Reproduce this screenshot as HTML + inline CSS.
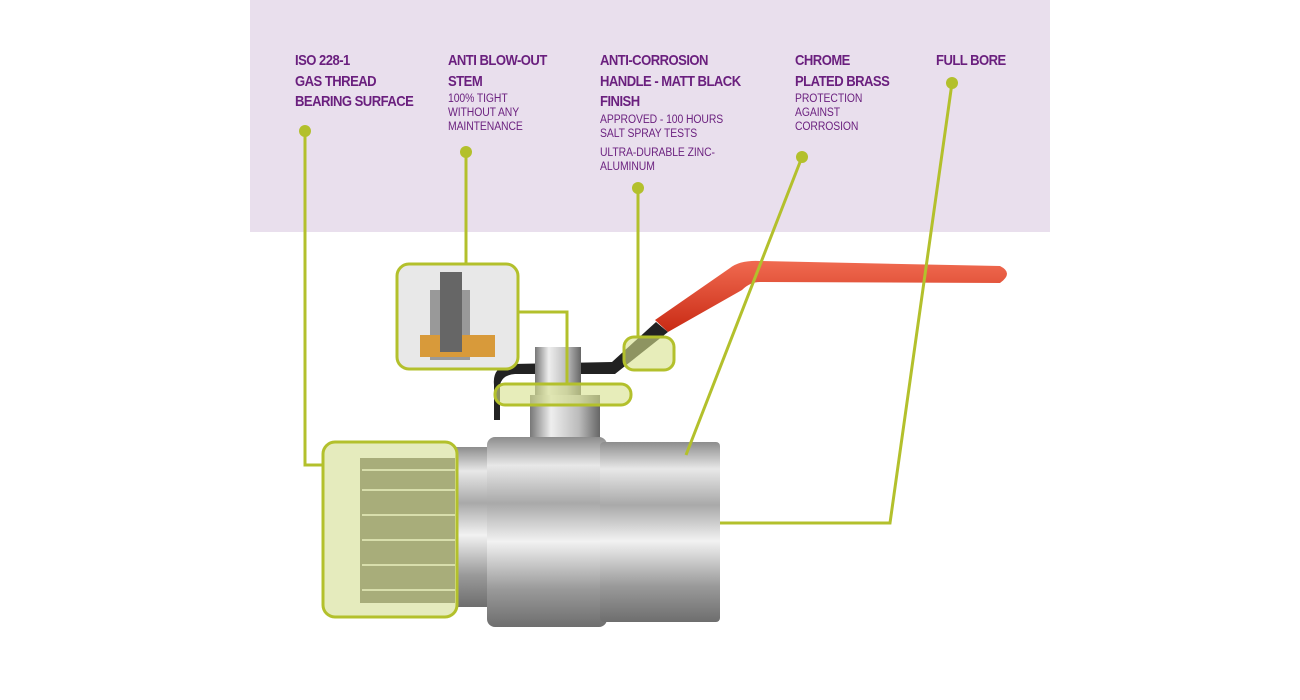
<!DOCTYPE html>
<html><head><style>
body{margin:0;width:1300px;height:700px;background:#fff;position:relative;overflow:hidden;font-family:"Liberation Sans",sans-serif;color:#6a1f7e}
.panel{position:absolute;left:250px;top:0;width:800px;height:232px;background:#e9dfed}
.t{position:absolute;font-weight:bold;font-size:15px;line-height:20.5px;letter-spacing:-0.6px;transform:scaleX(0.87);transform-origin:0 0;white-space:nowrap}
.s{font-weight:normal;font-size:11.5px;line-height:14px;letter-spacing:-0.1px;transform:scaleX(1.04);transform-origin:0 0}
svg{position:absolute;left:0;top:0}
</style></head><body>
<div class="panel"></div>
<div class="t" style="left:295px;top:51px">ISO 228-1<br>GAS THREAD<br>BEARING SURFACE</div>
<div class="t" style="left:448px;top:51px">ANTI BLOW-OUT<br>STEM<div class="s">100% TIGHT<br>WITHOUT ANY<br>MAINTENANCE</div></div>
<div class="t" style="left:600px;top:51px">ANTI-CORROSION<br>HANDLE - MATT BLACK<br>FINISH<div class="s">APPROVED - 100 HOURS<br>SALT SPRAY TESTS<div style="height:5px"></div>ULTRA-DURABLE ZINC-<br>ALUMINUM</div></div>
<div class="t" style="left:795px;top:51px">CHROME<br>PLATED BRASS<div class="s">PROTECTION<br>AGAINST<br>CORROSION</div></div>
<div class="t" style="left:936px;top:51px">FULL BORE</div>
<svg width="1300" height="700">
<defs>
<linearGradient id="sv" x1="0" y1="0" x2="0" y2="1">
<stop offset="0" stop-color="#8d8d8d"/><stop offset=".15" stop-color="#e8e8e8"/><stop offset=".35" stop-color="#a9a9a9"/><stop offset=".55" stop-color="#f2f2f2"/><stop offset=".8" stop-color="#9a9a9a"/><stop offset="1" stop-color="#6e6e6e"/></linearGradient>
<linearGradient id="sh" x1="0" y1="0" x2="1" y2="0">
<stop offset="0" stop-color="#777"/><stop offset=".3" stop-color="#eee"/><stop offset=".7" stop-color="#bbb"/><stop offset="1" stop-color="#666"/></linearGradient>
<linearGradient id="rd" x1="0" y1="0" x2="0" y2="1"><stop offset="0" stop-color="#f06a50"/><stop offset="1" stop-color="#c92a14"/></linearGradient>
</defs>
<path d="M655 320 L730 268 Q740 260 760 261 L1000 266 Q1014 273 1000 283 L760 282 Q750 282 742 290 L668 332 Z" fill="url(#rd)"/>
<path d="M500 420 L500 385 Q502 375 515 374 L615 374 L668 332 L656 322 L612 362 L512 364 Q492 366 494 385 L494 420 Z" fill="#222"/>
<rect x="535" y="347" width="46" height="50" fill="url(#sh)"/>
<rect x="530" y="395" width="70" height="45" fill="url(#sh)"/>
<rect x="455" y="447" width="35" height="160" fill="url(#sv)"/>
<rect x="487" y="437" width="120" height="190" rx="8" fill="url(#sv)"/>
<rect x="600" y="442" width="120" height="180" rx="4" fill="url(#sv)"/>
<rect x="323" y="442" width="134" height="175" rx="12" fill="#e5ebbd" stroke="#b3c02c" stroke-width="3"/>
<rect x="360" y="458" width="95" height="145" fill="#a8ad7a"/>
<g stroke="#d8deac" stroke-width="2"><line x1="362" y1="470" x2="455" y2="470"/><line x1="362" y1="490" x2="455" y2="490"/><line x1="362" y1="515" x2="455" y2="515"/><line x1="362" y1="540" x2="455" y2="540"/><line x1="362" y1="565" x2="455" y2="565"/><line x1="362" y1="590" x2="455" y2="590"/></g>
<rect x="397" y="264" width="121" height="105" rx="12" fill="#e8e8e8" stroke="#b3c02c" stroke-width="3"/>
<rect x="430" y="290" width="40" height="70" fill="#999"/>
<rect x="420" y="335" width="75" height="22" fill="#d89a3a"/>
<rect x="440" y="272" width="22" height="80" fill="#666"/>
<rect x="495" y="384" width="136" height="21" rx="10" fill="rgba(215,225,140,.6)" stroke="#b3c02c" stroke-width="3"/>
<rect x="624" y="337" width="50" height="33" rx="10" fill="rgba(215,225,140,.6)" stroke="#b3c02c" stroke-width="3"/>
<g stroke="#b3c02c" stroke-width="3" fill="none">
<polyline points="305,131 305,465 322,465"/>
<polyline points="466,152 466,263"/>
<polyline points="519,312 567,312 567,384"/>
<polyline points="638,188 638,337"/>
<polyline points="802,157 686,455"/>
<polyline points="952,83 890,523 720,523"/>
</g>
<g fill="#b3c02c"><circle cx="305" cy="131" r="6"/><circle cx="466" cy="152" r="6"/><circle cx="638" cy="188" r="6"/><circle cx="802" cy="157" r="6"/><circle cx="952" cy="83" r="6"/></g>
</svg>
</body></html>
